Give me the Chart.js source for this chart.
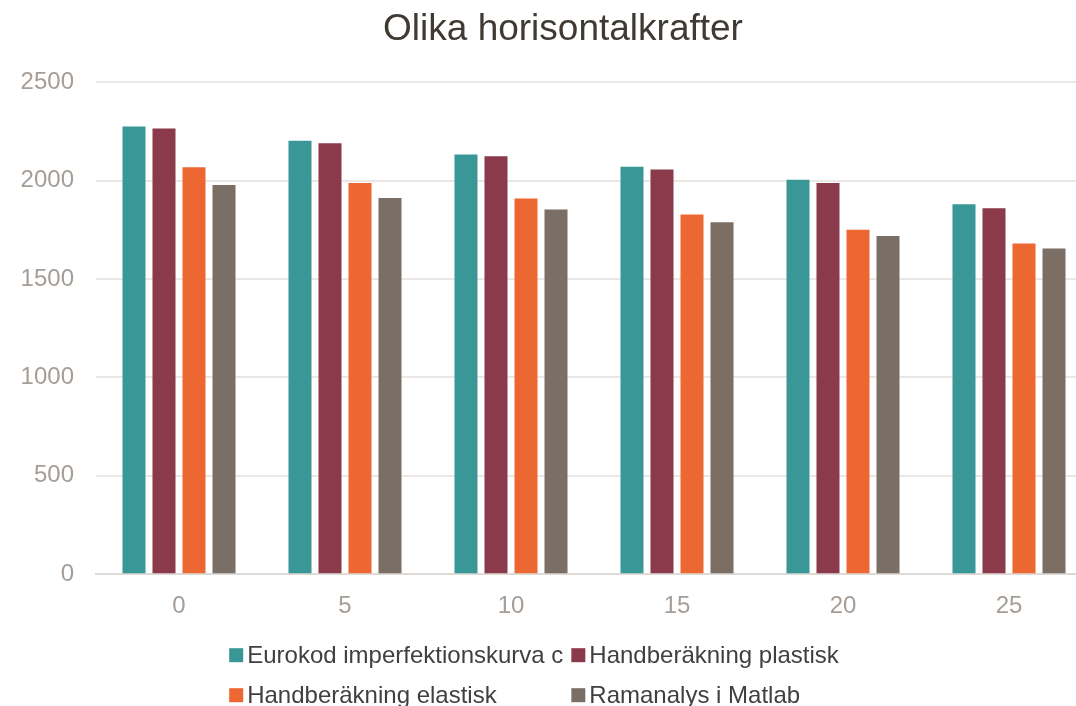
<!DOCTYPE html>
<html>
<head>
<meta charset="utf-8">
<script src="https://cdn.jsdelivr.net/npm/chart.js@4.4.1/dist/chart.umd.min.js"></script>
<style>
  html, body { margin: 0; padding: 0; background: #fff; overflow: hidden; }
  #wrap { width: 1126px; height: 720px; }
</style>
</head>
<body>
<div id="wrap"><canvas id="chart" width="1126" height="720"></canvas></div>
<script>
const FONT = '"Liberation Sans", Arial, sans-serif';

const categories = ['0', '5', '10', '15', '20', '25'];
const seriesNames = [
  'Eurokod imperfektionskurva c',
  'Handberäkning plastisk',
  'Handberäkning elastisk',
  'Ramanalys i Matlab',
];
const eurokod = [2276, 2203, 2134, 2071, 2005, 1880];
const plastisk = [2266, 2191, 2124, 2057, 1988, 1860];
const elastisk = [2069, 1988, 1910, 1829, 1751, 1681];
const matlab = [1978, 1912, 1854, 1789, 1719, 1656];
const yTicks = [0, 500, 1000, 1500, 2000, 2500];

const colors = ['#3a9797', '#8a3a4a', '#ec6731', '#7a6e65'];

// centre the title on the whole canvas, not only the padded area
const titleCentre = {
  id: 'titleCentre',
  afterLayout(chart) {
    const t = chart.titleBlock;
    if (t) { t.left = 0; t.right = chart.width; }
  }
};

// legend laid out in two aligned columns like the original
const gridLegend = {
  id: 'gridLegend',
  afterDraw(chart) {
    const ctx = chart.ctx;
    const items = chart.data.datasets.map(d => ({ text: d.label, color: d.backgroundColor }));
    const box = 14, gap = 4, colGap = 8, rowH = 40;
    ctx.save();
    ctx.font = '24px ' + FONT;
    const colW = [0, 0];
    items.forEach((it, i) => {
      colW[i % 2] = Math.max(colW[i % 2], box + gap + ctx.measureText(it.text).width);
    });
    const total = colW[0] + colGap + colW[1];
    const left = chart.width / 2 - total / 2 - 29;
    const top = chart.chartArea.bottom + 81;
    ctx.textBaseline = 'middle';
    items.forEach((it, i) => {
      const col = i % 2, row = Math.floor(i / 2);
      const x = left + (col ? colW[0] + colGap : 0);
      const y = top + row * rowH;
      ctx.fillStyle = it.color;
      ctx.fillRect(x, y - box / 2, box, box);
      ctx.fillStyle = '#404040';
      ctx.fillText(it.text, x + box + gap, y + 1);
    });
    ctx.restore();
  }
};

new Chart(document.getElementById('chart'), {
  type: 'bar',
  data: {
    labels: categories,
    datasets: [eurokod, plastisk, elastisk, matlab].map((vals, i) => ({
      label: seriesNames[i],
      data: vals,
      backgroundColor: colors[i],
      borderWidth: 0,
      categoryPercentage: 0.723,
      barPercentage: 0.767,
    })),
  },
  options: {
    responsive: false,
    devicePixelRatio: 1,
    animation: false,
    layout: { padding: { top: 0, left: 0, right: 34, bottom: 81 } },
    plugins: {
      legend: { display: false },
      tooltip: { enabled: false },
      title: {
        display: true,
        text: 'Olika horisontalkrafter',
        color: '#3f3a34',
        font: { size: 37, family: FONT, weight: 'normal' },
        padding: { top: 8, bottom: 30 },
      },
    },
    scales: {
      x: {
        grid: { display: false, drawTicks: false },
        border: { display: true, color: '#dedad6', width: 2 },
        ticks: { color: '#a59d96', font: { size: 24, family: FONT }, padding: 18 },
      },
      y: {
        min: 0,
        max: 2500,
        afterBuildTicks: (scale) => { scale.ticks = yTicks.map(v => ({ value: v })); },
        afterFit: (scale) => { scale.width = 96; },
        grid: { color: '#ebe7e4', lineWidth: 2, drawTicks: false },
        border: { display: false },
        ticks: {
          color: '#a59d96',
          font: { size: 24, family: FONT },
          padding: 22,
          callback: (v) => String(v),
        },
      },
    },
  },
  plugins: [titleCentre, gridLegend],
});
</script>
</body>
</html>
